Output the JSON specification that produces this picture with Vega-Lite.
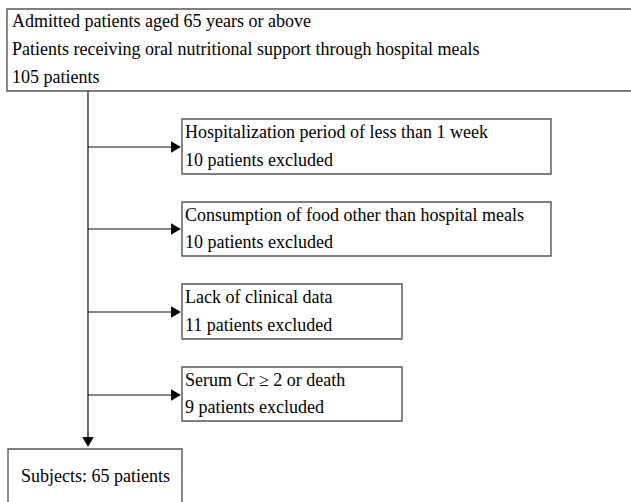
{
  "$schema": "https://vega.github.io/schema/vega-lite/v6.json",
  "width": 631,
  "height": 502,
  "autosize": {"type": "none"},
  "padding": 0,
  "background": "white",
  "config": {"view": {"stroke": null}},
  "datasets": {
    "boxes": [
      {"x": 7, "x2": 640, "y": 9, "y2": 91},
      {"x": 182, "x2": 551, "y": 119, "y2": 174},
      {"x": 182, "x2": 551, "y": 202, "y2": 256},
      {"x": 182, "x2": 402, "y": 284, "y2": 339},
      {"x": 182, "x2": 402, "y": 367, "y2": 421},
      {"x": 8, "x2": 182, "y": 449, "y2": 510}
    ],
    "lines": [
      {"x": 88, "x2": 88, "y": 91, "y2": 442},
      {"x": 88, "x2": 174, "y": 147, "y2": 147},
      {"x": 88, "x2": 174, "y": 229, "y2": 229},
      {"x": 88, "x2": 174, "y": 312, "y2": 312},
      {"x": 88, "x2": 174, "y": 395, "y2": 395}
    ],
    "arrows": [
      {"x": 176, "y": 147, "dir": "right"},
      {"x": 176, "y": 229, "dir": "right"},
      {"x": 176, "y": 312, "dir": "right"},
      {"x": 176, "y": 395, "dir": "right"},
      {"x": 88, "y": 442, "dir": "down"}
    ],
    "labels": [
      {"x": 12, "y": 22, "t": "Admitted patients aged 65 years or above"},
      {"x": 12, "y": 50, "t": "Patients receiving oral nutritional support through hospital meals"},
      {"x": 12, "y": 78, "t": "105 patients"},
      {"x": 185, "y": 133, "t": "Hospitalization period of less than 1 week"},
      {"x": 185, "y": 161, "t": "10 patients excluded"},
      {"x": 185, "y": 216, "t": "Consumption of food other than hospital meals"},
      {"x": 185, "y": 243, "t": "10 patients excluded"},
      {"x": 185, "y": 298, "t": "Lack of clinical data"},
      {"x": 185, "y": 326, "t": "11 patients excluded"},
      {"x": 185, "y": 381, "t": "Serum Cr ≥ 2 or death"},
      {"x": 185, "y": 408, "t": "9 patients excluded"},
      {"x": 21, "y": 477, "t": "Subjects: 65 patients"}
    ]
  },
  "layer": [
    {
      "data": {"name": "boxes"},
      "mark": {"type": "rect", "fill": "white", "stroke": "#555555", "strokeWidth": 1.4},
      "encoding": {
        "x": {"field": "x", "type": "quantitative", "scale": {"domain": [0, 631]}, "axis": null},
        "x2": {"field": "x2"},
        "y": {"field": "y", "type": "quantitative", "scale": {"domain": [0, 502], "reverse": true}, "axis": null},
        "y2": {"field": "y2"}
      }
    },
    {
      "data": {"name": "lines"},
      "mark": {"type": "rule", "color": "#111111", "strokeWidth": 1.2},
      "encoding": {
        "x": {"field": "x", "type": "quantitative", "scale": {"domain": [0, 631]}, "axis": null},
        "x2": {"field": "x2"},
        "y": {"field": "y", "type": "quantitative", "scale": {"domain": [0, 502], "reverse": true}, "axis": null},
        "y2": {"field": "y2"}
      }
    },
    {
      "data": {"name": "arrows"},
      "mark": {"type": "point", "filled": true, "color": "#000000", "size": 130, "opacity": 1},
      "encoding": {
        "x": {"field": "x", "type": "quantitative", "scale": {"domain": [0, 631]}, "axis": null},
        "y": {"field": "y", "type": "quantitative", "scale": {"domain": [0, 502], "reverse": true}, "axis": null},
        "shape": {"field": "dir", "type": "nominal", "scale": {"domain": ["right", "down"], "range": ["triangle-right", "triangle-down"]}, "legend": null}
      }
    },
    {
      "data": {"name": "labels"},
      "mark": {"type": "text", "align": "left", "baseline": "middle", "font": "Liberation Serif", "fontSize": 18, "color": "#000000"},
      "encoding": {
        "x": {"field": "x", "type": "quantitative", "scale": {"domain": [0, 631]}, "axis": null},
        "y": {"field": "y", "type": "quantitative", "scale": {"domain": [0, 502], "reverse": true}, "axis": null},
        "text": {"field": "t", "type": "nominal"}
      }
    }
  ]
}
